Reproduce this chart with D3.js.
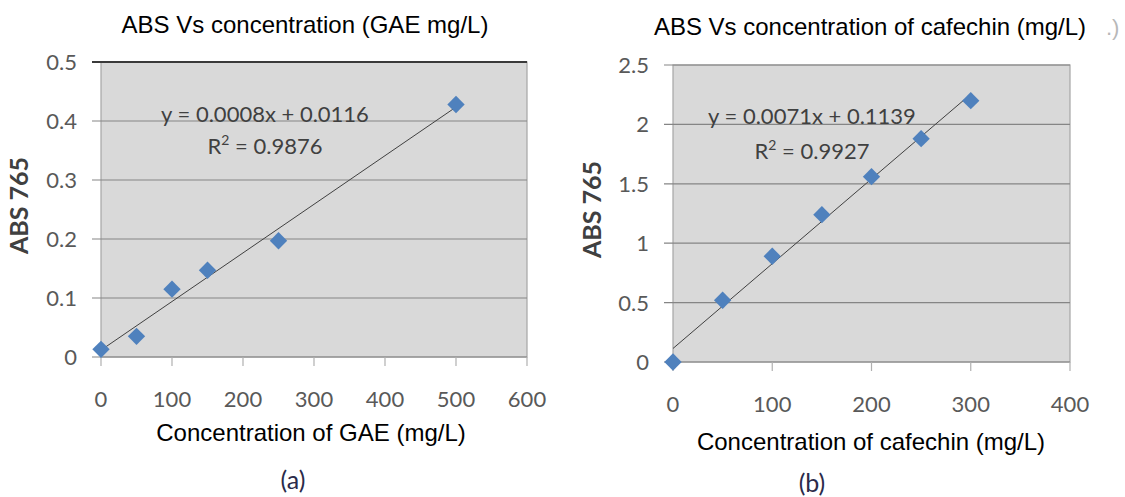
<!DOCTYPE html>
<html>
<head>
<meta charset="utf-8">
<script src="https://cdn.jsdelivr.net/npm/d3@7"></script>
<style>
  body { margin: 0; background: #fff; }
  svg text { font-family: "Liberation Sans", Arial, sans-serif; }
  .tick-lbl { font-family: Lato, "Open Sans", sans-serif; fill: #595959; font-size: 22px; }
  .eq { font-family: Lato, "Open Sans", sans-serif; fill: #404040; font-size: 22px; }
</style>
</head>
<body>
<div id="plot"></div>
<script>
// chart (a): GAE standard curve
var gaeConc = [0, 50, 100, 150, 250, 500];
var gaeAbs = [0.013, 0.035, 0.115, 0.147, 0.197, 0.428];
var gaeXTicks = [0, 100, 200, 300, 400, 500, 600];
var gaeYTicks = [0, 0.1, 0.2, 0.3, 0.4, 0.5];

// chart (b): catechin standard curve
var catConc = [0, 50, 100, 150, 200, 250, 300];
var catAbs = [0, 0.52, 0.89, 1.24, 1.56, 1.88, 2.2];
var catXTicks = [0, 100, 200, 300, 400];
var catYTicks = [0, 0.5, 1, 1.5, 2, 2.5];

var width = 1125, height = 497;

var svg = d3.select("#plot")
    .append("svg")
    .attr("width", width)
    .attr("height", height);

// least squares line through the points
function fitLine(xs, ys) {
    var mx = d3.mean(xs), my = d3.mean(ys);
    var sxy = 0, sxx = 0;
    for (var i = 0; i < xs.length; i++) {
        sxy += (xs[i] - mx) * (ys[i] - my);
        sxx += (xs[i] - mx) * (xs[i] - mx);
    }
    var slope = sxy / sxx;
    return {slope: slope, icpt: my - slope * mx};
}

function drawChart(cfg) {
    var g = svg.append("g");
    var x = d3.scaleLinear().domain(cfg.xDomain).range([cfg.left, cfg.right]);
    var y = d3.scaleLinear().domain(cfg.yDomain).range([cfg.bottom, cfg.top]);

    // plot area
    g.append("rect")
        .attr("x", cfg.left).attr("y", cfg.top)
        .attr("width", cfg.right - cfg.left)
        .attr("height", cfg.bottom - cfg.top)
        .attr("fill", "#d9d9d9")
        .attr("stroke", "#a6a6a6")
        .attr("stroke-width", 1.2);

    // gridlines + little ticks left of the axis
    g.selectAll(".grid")
        .data(cfg.yTicks)
        .enter()
        .append("line")
        .attr("x1", cfg.left - 9).attr("x2", cfg.right)
        .attr("y1", d => y(d)).attr("y2", d => y(d))
        .attr("stroke", d => d == cfg.yTicks[cfg.yTicks.length - 1] ? cfg.topColor : "#858585")
        .attr("stroke-width", d => d == cfg.yTicks[cfg.yTicks.length - 1] ? cfg.topWidth : 1.2);

    // x ticks hanging under the plot
    g.selectAll(".xt")
        .data(cfg.xTicks)
        .enter()
        .append("line")
        .attr("x1", d => x(d)).attr("x2", d => x(d))
        .attr("y1", cfg.bottom).attr("y2", cfg.bottom + 9)
        .attr("stroke", "#b0b0b0")
        .attr("stroke-width", 1.2);

    g.selectAll(".ylbl")
        .data(cfg.yTicks)
        .enter()
        .append("text")
        .attr("class", "tick-lbl")
        .attr("x", cfg.left - 24)
        .attr("y", d => y(d) + 8)
        .attr("text-anchor", "end")
        .text(d => d);

    g.selectAll(".xlbl")
        .data(cfg.xTicks)
        .enter()
        .append("text")
        .attr("class", "tick-lbl")
        .attr("x", d => x(d))
        .attr("y", cfg.bottom + 50)
        .attr("text-anchor", "middle")
        .text(d => d);

    // trendline over the data range
    var fit = fitLine(cfg.xs, cfg.ys);
    var x0 = d3.min(cfg.xs), x1 = d3.max(cfg.xs);
    g.append("line")
        .attr("x1", x(x0)).attr("y1", y(fit.icpt + fit.slope * x0))
        .attr("x2", x(x1)).attr("y2", y(fit.icpt + fit.slope * x1))
        .attr("stroke", "#404040")
        .attr("stroke-width", 1);

    // diamonds
    g.selectAll(".pt")
        .data(cfg.xs.map((v, i) => [v, cfg.ys[i]]))
        .enter()
        .append("path")
        .attr("d", d3.symbol().type(d3.symbolSquare).size(150))
        .attr("transform", d => `translate(${x(d[0])},${y(d[1])}) rotate(45)`)
        .attr("fill", "#4f81bd");

    // equation
    g.append("text")
        .attr("class", "eq")
        .attr("x", cfg.eqX).attr("y", cfg.eqY)
        .attr("text-anchor", "middle")
        .text(cfg.eq);
    var r2 = g.append("text")
        .attr("class", "eq")
        .attr("x", cfg.eqX).attr("y", cfg.eqY + cfg.r2Gap)
        .attr("text-anchor", "middle");
    r2.append("tspan").text("R");
    r2.append("tspan").attr("dy", -9).style("font-size", "14px").text("2");
    r2.append("tspan").attr("dy", 9).text(" = " + cfg.r2);

    // titles
    g.append("text")
        .attr("x", cfg.titleX).attr("y", cfg.titleY)
        .attr("text-anchor", "middle")
        .style("font-size", "24px")
        .text(cfg.title);

    g.append("text")
        .attr("x", cfg.xTitleX).attr("y", cfg.xTitleY)
        .attr("text-anchor", "middle")
        .style("font-size", "24px")
        .text(cfg.xTitle);

    g.append("text")
        .attr("transform", `translate(${cfg.yTitleX}, ${(cfg.top + cfg.bottom) / 2 - 4}) rotate(-90)`)
        .attr("text-anchor", "middle")
        .style("font-family", "Lato, sans-serif")
        .style("font-weight", "bold")
        .style("font-size", "25px")
        .style("fill", "#404040")
        .text("ABS 765");

    g.append("text")
        .attr("x", cfg.tagX).attr("y", cfg.tagY)
        .attr("text-anchor", "middle")
        .style("font-family", "Lato, sans-serif")
        .style("font-size", "25px")
        .style("fill", "#2b2b4a")
        .text(cfg.tag);
}

drawChart({
    xs: gaeConc, ys: gaeAbs,
    xDomain: [0, 600], yDomain: [0, 0.5],
    xTicks: gaeXTicks, yTicks: gaeYTicks,
    left: 101, right: 527, top: 62, bottom: 357,
    topColor: "#3a3a3a", topWidth: 2,
    eq: "y = 0.0008x + 0.0116", r2: "0.9876", eqX: 265, eqY: 122, r2Gap: 32,
    title: "ABS Vs concentration (GAE mg/L)", titleX: 305, titleY: 33,
    xTitle: "Concentration of GAE (mg/L)", xTitleX: 311, xTitleY: 441,
    yTitleX: 28, tag: "(a)", tagX: 293, tagY: 489
});

drawChart({
    xs: catConc, ys: catAbs,
    xDomain: [0, 400], yDomain: [0, 2.5],
    xTicks: catXTicks, yTicks: catYTicks,
    left: 673, right: 1070, top: 65, bottom: 362,
    topColor: "#858585", topWidth: 1.2,
    eq: "y = 0.0071x + 0.1139", r2: "0.9927", eqX: 812, eqY: 124, r2Gap: 35,
    title: "ABS Vs concentration of cafechin (mg/L)", titleX: 870, titleY: 35,
    xTitle: "Concentration of cafechin (mg/L)", xTitleX: 871, xTitleY: 450,
    yTitleX: 601, tag: "(b)", tagX: 812, tagY: 492
});

// stray mark at the top right corner of the scan
svg.append("text")
    .attr("x", 1106).attr("y", 35)
    .style("font-size", "22px")
    .style("fill", "#b8b8b8")
    .text(".)");
</script>
</body>
</html>
